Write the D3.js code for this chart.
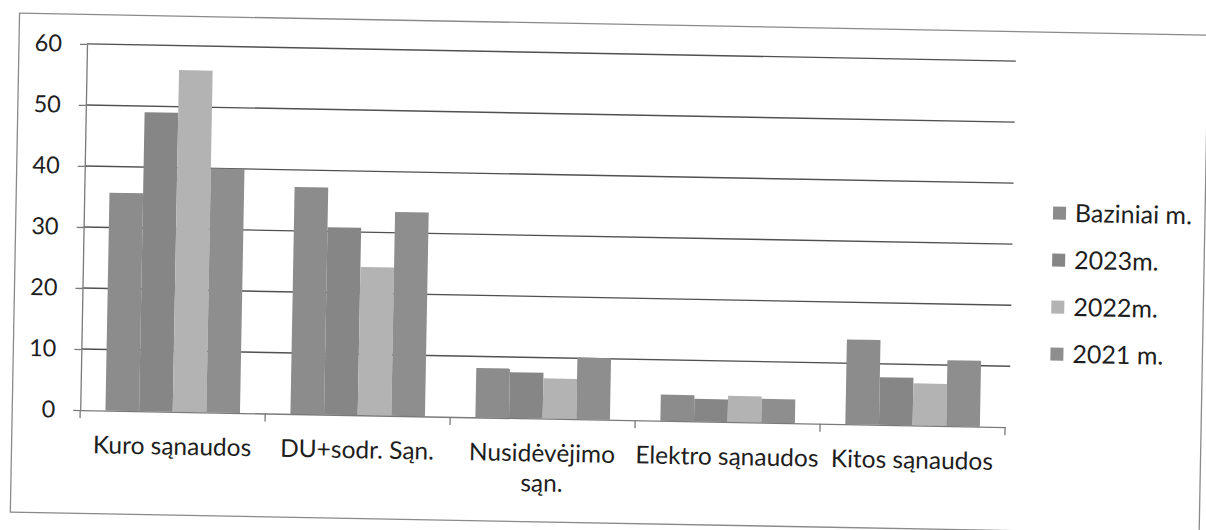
<!DOCTYPE html>
<html>
<head>
<meta charset="utf-8">
<script src="https://cdn.jsdelivr.net/npm/d3@7"></script>
<style>
  html, body { margin: 0; padding: 0; background: #ffffff; }
  svg { display: block; }
  text { font-family: Lato, "Open Sans", sans-serif; fill: #1e1e1e; }
</style>
</head>
<body>
<svg id="chart" width="1206" height="530"></svg>
<script>
// ---- data ----
const categories = ["Kuro sąnaudos", "DU+sodr. Sąn.", "Nusidėvėjimo sąn.", "Elektro sąnaudos", "Kitos sąnaudos"];
const seriesNames = ["Baziniai m.", "2023m.", "2022m.", "2021 m."];
const baziniai = [35.7, 37.2, 8.1, 4.3, 13.9];
const m2023    = [49.0, 30.7, 7.5, 3.7, 7.8];
const m2022    = [56.0, 24.3, 6.6, 4.3, 6.9];
const m2021    = [40.0, 33.4, 10.1, 3.9, 10.8];
const yTicks   = [0, 10, 20, 30, 40, 50, 60];

const seriesValues = [baziniai, m2023, m2022, m2021];
const colors = ["#8c8c8c", "#868686", "#b3b3b3", "#8e8e8e"];

// ---- layout ----
const W = 1206, H = 530;
const plot = { left: 83, right: 1008, top: 53.5, bottom: 419.7 };

const svg = d3.select("#chart");
svg.append("rect").attr("width", W).attr("height", H).attr("fill", "#ffffff");

// the scanned page is slightly tilted
const root = svg.append("g").attr("transform", "rotate(1.06, 603, 265)");

// outer frame
root.append("rect")
  .attr("x", 15).attr("y", 24)
  .attr("width", 1189).attr("height", 499)
  .attr("fill", "none").attr("stroke", "#8a8a8a").attr("stroke-width", 1.3);

const x0 = d3.scaleBand().domain(categories)
  .range([plot.left, plot.right])
  .paddingInner(1.5 / 5.5).paddingOuter(0.75 / 5.5);
const x1 = d3.scaleBand().domain(d3.range(seriesNames.length))
  .range([0, x0.bandwidth()]).padding(0);
const y = d3.scaleLinear().domain([0, 60]).range([plot.bottom, plot.top]);

// gridlines
root.append("g").selectAll("line").data(yTicks.filter(d => d > 0)).join("line")
  .attr("x1", plot.left).attr("x2", plot.right + 4)
  .attr("y1", d => y(d)).attr("y2", d => y(d))
  .attr("stroke", "#505050").attr("stroke-width", 1.4);

// y axis
const yAxis = d3.axisLeft(y).tickValues(yTicks).tickSize(7).tickPadding(18).tickSizeOuter(0);
const gy = root.append("g").attr("transform", `translate(${plot.left},0)`).call(yAxis);
gy.select(".domain").attr("stroke", "#7a7a7a").attr("stroke-width", 1.3);
gy.selectAll(".tick line").attr("stroke", "#7a7a7a").attr("stroke-width", 1.3);
gy.selectAll(".tick text").attr("font-size", 23.5).attr("fill", "#1e1e1e")
  .style("font-family", "Lato, 'Open Sans', sans-serif");

// bars
const groups = root.append("g").selectAll("g").data(categories).join("g")
  .attr("transform", d => `translate(${x0(d)},0)`);
groups.selectAll("rect")
  .data((c, ci) => seriesValues.map((vals, si) => ({ si, v: vals[ci] })))
  .join("rect")
  .attr("x", d => x1(d.si))
  .attr("width", x1.bandwidth())
  .attr("y", d => y(d.v))
  .attr("height", d => y(0) - y(d.v))
  .attr("fill", d => colors[d.si]);

// x axis
const xAxis = d3.axisBottom(x0).tickSize(0).tickPadding(0).tickFormat("");
const gx = root.append("g").attr("transform", `translate(0,${plot.bottom})`).call(xAxis);
gx.select(".domain").attr("stroke", "#7a7a7a").attr("stroke-width", 1.3);
// tick marks at category boundaries
const step = x0.step();
const boundaries = d3.range(categories.length + 1).map(i => plot.left + i * step);
root.append("g").selectAll("line").data(boundaries).join("line")
  .attr("x1", d => d).attr("x2", d => d)
  .attr("y1", plot.bottom).attr("y2", plot.bottom + 8)
  .attr("stroke", "#7a7a7a").attr("stroke-width", 1.3);

// category labels (wrapped when wider than a category slot)
const labels = root.append("g").selectAll("text").data(categories).join("text")
  .attr("x", d => x0(d) + x0.bandwidth() / 2)
  .attr("y", plot.bottom + 43)
  .attr("text-anchor", "middle")
  .attr("font-size", 24.5);
labels.each(function (d) {
  const t = d3.select(this);
  t.text(d);
  if (this.getComputedTextLength() > step) {
    const words = d.split(" ");
    t.text(null);
    const cx = +t.attr("x");
    t.append("tspan").attr("x", cx).attr("dy", 0).text(words.slice(0, -1).join(" "));
    t.append("tspan").attr("x", cx).attr("dy", 30).text(words[words.length - 1]);
  }
});

// legend
const legend = root.append("g").attr("transform", "translate(1052,204.6)");
const li = legend.selectAll("g").data(seriesNames).join("g")
  .attr("transform", (d, i) => `translate(0,${i * 47})`);
li.append("rect").attr("x", 0).attr("y", -6.5).attr("width", 13).attr("height", 13)
  .attr("fill", (d, i) => colors[i]);
li.append("text").attr("x", 22).attr("y", 0).attr("dy", "0.35em")
  .attr("font-size", 25).text(d => d);
</script>
</body>
</html>
